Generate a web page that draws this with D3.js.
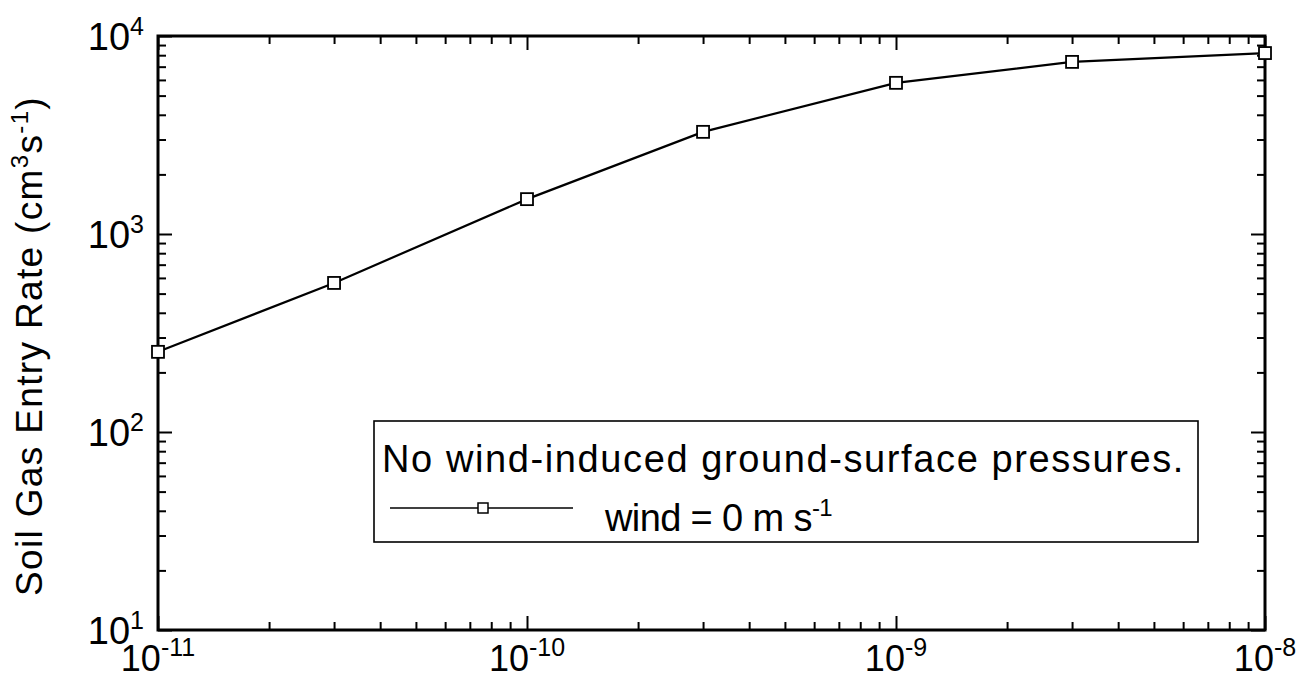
<!DOCTYPE html>
<meta charset="utf-8">
<html>
<script src="https://d3js.org/d3.v7.min.js"></script>
<style>
  body { margin: 0; background: #fff; }
  text { font-family: "Liberation Sans", Arial, sans-serif; fill: #000; }
</style>
<div id="chart"></div>
<script>

// data
var permeability = [1e-11, 3e-11, 1e-10, 3e-10, 1e-9, 3e-9, 1e-8];
var entryRate = [254, 566, 1500, 3280, 5800, 7400, 8200];
var xTickExps = [-11, -10, -9, -8];
var yTickExps = [1, 2, 3, 4];

var width = 1300,
    height = 680,
    margin = {left: 158, right: 35, top: 36, bottom: 50};

var svg = d3.select("#chart")
  .append("svg")
    .attr("width", width)
    .attr("height", height);

var x = d3.scaleLog()
  .domain([1e-11, 1e-8])
  .range([margin.left, width - margin.right]);

var y = d3.scaleLog()
  .domain([10, 1e4])
  .range([height - margin.bottom, margin.top]);

function minors(exps) {
  var out = [];
  exps.slice(0, -1).forEach(function(e) {
    for (var k = 2; k <= 9; k++) out.push(k * Math.pow(10, e));
  });
  return out;
}
var xMajor = xTickExps.map(function(e) { return Math.pow(10, e); });
var yMajor = yTickExps.map(function(e) { return Math.pow(10, e); });

// ticks on all four sides, pointing inward
function addAxis(axis, values, size, tx, ty) {
  var g = svg.append("g")
    .attr("transform", "translate(" + tx + "," + ty + ")")
    .call(axis.tickValues(values).tickSize(size).tickFormat(""));
  g.select(".domain").remove();
  g.selectAll("line").attr("stroke", "#000").attr("stroke-width", 2);
}
var x0 = margin.left, x1 = width - margin.right;
var y0 = height - margin.bottom, y1 = margin.top;

addAxis(d3.axisBottom(x), xMajor, -14, 0, y0);
addAxis(d3.axisBottom(x), minors(xTickExps), -8, 0, y0);
addAxis(d3.axisTop(x), xMajor, -14, 0, y1);
addAxis(d3.axisTop(x), minors(xTickExps), -8, 0, y1);
addAxis(d3.axisLeft(y), yMajor, -14, x0, 0);
addAxis(d3.axisLeft(y), minors(yTickExps), -8, x0, 0);
addAxis(d3.axisRight(y), yMajor, -14, x1, 0);
addAxis(d3.axisRight(y), minors(yTickExps), -8, x1, 0);

// frame
svg.append("rect")
  .attr("x", x0).attr("y", y1)
  .attr("width", x1 - x0).attr("height", y0 - y1)
  .attr("fill", "none")
  .attr("stroke", "#000")
  .attr("stroke-width", 3);

// tick labels 10^n
function powLabel(sel, e) {
  sel.append("tspan").text("10");
  sel.append("tspan")
    .attr("dy", -15)
    .style("font-size", "25px")
    .text(e);
}

xTickExps.forEach(function(e) {
  svg.append("text")
    .attr("x", x(Math.pow(10, e)))
    .attr("y", 671)
    .attr("text-anchor", "middle")
    .style("font-size", "36px")
    .call(powLabel, e);
});

yTickExps.forEach(function(e) {
  svg.append("text")
    .attr("x", 144)
    .attr("y", y(Math.pow(10, e)) + 14)
    .attr("text-anchor", "end")
    .style("font-size", "38px")
    .call(powLabel, e);
});

// stretch a text to the width it has in the figure
function fitWidth(sel, target) {
  var n = sel.node();
  var len = n.getComputedTextLength();
  var chars = n.textContent.length;
  sel.attr("letter-spacing", (target - len) / chars);
}

// y axis title
var yt = svg.append("text")
  .attr("transform", "translate(42,346) rotate(-90)")
  .attr("text-anchor", "middle")
  .style("font-size", "37px");
yt.append("tspan").text("Soil Gas Entry Rate (cm");
yt.append("tspan").attr("dy", -14).style("font-size", "24px").text("3");
yt.append("tspan").attr("dy", 14).text("s");
yt.append("tspan").attr("dy", -14).style("font-size", "24px").text("-1");
yt.append("tspan").attr("dy", 14).text(")");
fitWidth(yt, 500);

// series
var line = d3.line()
  .x(function(d, i) { return x(permeability[i]); })
  .y(function(d) { return y(d); });

svg.append("path")
  .datum(entryRate)
  .attr("d", line)
  .attr("fill", "none")
  .attr("stroke", "#000")
  .attr("stroke-width", 2.2);

svg.selectAll("rect.pt")
  .data(entryRate)
  .enter().append("rect")
    .attr("class", "pt")
    .attr("x", function(d, i) { return x(permeability[i]) - 6; })
    .attr("y", function(d) { return y(d) - 6; })
    .attr("width", 12)
    .attr("height", 12)
    .attr("fill", "#fff")
    .attr("stroke", "#000")
    .attr("stroke-width", 1.8);

// legend
svg.append("rect")
  .attr("x", 374).attr("y", 421)
  .attr("width", 824).attr("height", 121)
  .attr("fill", "#fff")
  .attr("stroke", "#000")
  .attr("stroke-width", 1.6);

var l1 = svg.append("text")
  .attr("x", 382).attr("y", 472)
  .style("font-size", "38px")
  .text("No wind-induced ground-surface pressures.");
fitWidth(l1, 803);

svg.append("line")
  .attr("x1", 390).attr("x2", 573)
  .attr("y1", 508).attr("y2", 508)
  .attr("stroke", "#000")
  .attr("stroke-width", 1.6);
svg.append("rect")
  .attr("x", 478).attr("y", 503)
  .attr("width", 10).attr("height", 10)
  .attr("fill", "#fff")
  .attr("stroke", "#000")
  .attr("stroke-width", 1.5);

var l2 = svg.append("text")
  .attr("x", 605).attr("y", 531)
  .style("font-size", "38px");
l2.append("tspan").text("wind = 0 m s");
l2.append("tspan").attr("dy", -15).style("font-size", "24px").text("-1");
fitWidth(l2, 227);

</script>
</html>
